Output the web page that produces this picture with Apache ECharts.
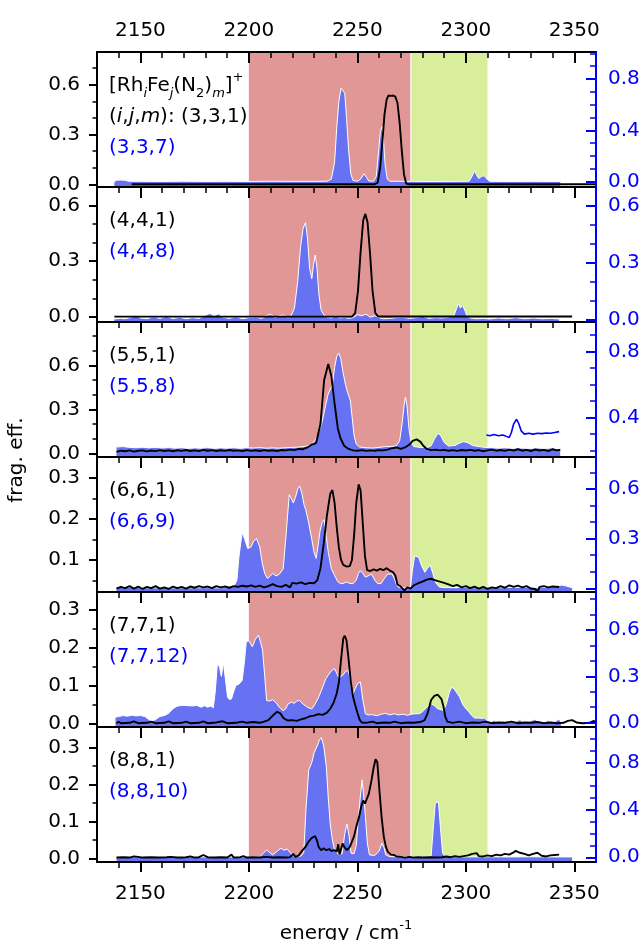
<!DOCTYPE html>
<html><head><meta charset="utf-8">
<script src="https://cdn.jsdelivr.net/npm/echarts@6/dist/echarts.min.js"></script>
<style>html,body{margin:0;padding:0;background:#fff}#c{width:644px;height:940px}</style>
</head><body><div id="c"></div>
<script>
// ---------------- data ----------------
const xMajor = [2150, 2200, 2250, 2300, 2350];
const xMinor = [2140, 2160, 2170, 2180, 2190, 2210, 2220, 2230, 2240, 2260, 2270, 2280, 2290, 2310, 2320, 2330, 2340];
const redBand = [2200, 2274.4];
const greenBand = [2274.9, 2310];

const labelsBlack = ['(3,3,1)', '(4,4,1)', '(5,5,1)', '(6,6,1)', '(7,7,1)', '(8,8,1)'];
const labelsBlue = ['(3,3,7)', '(4,4,8)', '(5,5,8)', '(6,6,9)', '(7,7,12)', '(8,8,10)'];

const leftMajor = [[0, 0.3, 0.6], [0, 0.3, 0.6], [0, 0.3, 0.6], [0.1, 0.2, 0.3], [0, 0.1, 0.2, 0.3], [0, 0.1, 0.2, 0.3]];
const leftMinor = [[0.1, 0.2, 0.4, 0.5, 0.7], [0.1, 0.2, 0.4, 0.5], [0.1, 0.2, 0.4, 0.5, 0.7, 0.8], [0.05, 0.15, 0.25], [0.05, 0.15, 0.25], [0.05, 0.15, 0.25]];
const rightMajor = [[0, 0.4, 0.8], [0, 0.3, 0.6], [0.4, 0.8], [0, 0.3, 0.6], [0, 0.3, 0.6], [0, 0.4, 0.8]];
const rightMinor = [[0.1, 0.2, 0.3, 0.5, 0.6, 0.7, 0.9, 1.0], [0.1, 0.2, 0.4, 0.5], [0.2, 0.3, 0.5, 0.6, 0.7, 0.9], [0.1, 0.2, 0.4, 0.5, 0.7], [0.1, 0.2, 0.4, 0.5, 0.7, 0.8], [0.1, 0.2, 0.3, 0.5, 0.6, 0.7, 0.9, 1.0]];
const leftExtent = [[-0.016, 0.797], [-0.028, 0.70], [-0.025, 0.896], [0.0216, 0.352], [-0.008, 0.347], [-0.01, 0.355]];
const rightExtent = [[-0.041, 1.011], [-0.013, 0.698], [0.162, 0.977], [-0.022, 0.793], [-0.028, 0.846], [-0.04, 1.10]];

// panel 1 (3,3,1) / (3,3,7)
const black1 = [[2146,0.001],[2258,0.001],[2259.4,0.01],[2260.5,0.1],[2261.5,0.25],[2262.5,0.42],[2263.5,0.51],[2264.3,0.535],[2265.5,0.533],[2266.5,0.535],[2267.5,0.528],[2268.5,0.49],[2269.5,0.37],[2270.5,0.2],[2271.5,0.06],[2272.5,0.005],[2273.5,0.001],[2360,0.001]];
const blue1 = [[2138,0.0],[2139,0.012],[2141,0.013],[2143,0.011],[2144.5,0.004],[2150,0.003],[2160,0.002],[2170,0.004],[2180,0.002],[2190,0.003],[2200,0.002],[2210,0.004],[2220,0.003],[2230,0.003],[2236,0.004],[2238,0.02],[2239.5,0.15],[2240.5,0.42],[2241.5,0.63],[2242.5,0.73],[2243.3,0.745],[2244.2,0.69],[2245,0.5],[2246,0.24],[2247,0.06],[2248,0.01],[2250,0.004],[2251.5,0.02],[2253,0.062],[2254.2,0.035],[2255.2,0.006],[2257.5,0.004],[2258.7,0.04],[2259.7,0.22],[2260.6,0.39],[2261.3,0.43],[2262,0.34],[2262.8,0.13],[2263.8,0.02],[2265,0.004],[2275,0.003],[2285,0.002],[2295,0.003],[2301.5,0.004],[2302.8,0.04],[2304,0.085],[2305.2,0.045],[2306,0.025],[2307.2,0.042],[2308.6,0.046],[2309.8,0.02],[2311,0.003],[2320,0.002],[2330,0.003],[2343.5,0.002]];

// panel 2 (4,4,1) / (4,4,8)
const black2 = [[2138,0.001],[2247.5,0.001],[2249,0.02],[2250.3,0.14],[2251.5,0.35],[2252.7,0.52],[2253.7,0.555],[2254.7,0.51],[2255.8,0.35],[2257,0.14],[2258.3,0.02],[2259.5,0.002],[2349,0.002]];
const blue2 = [[2138,0.003],[2141,0.006],[2143,0.004],[2146,0.012],[2148,0.022],[2150,0.008],[2153,0.004],[2156,0.014],[2159,0.006],[2162,0.016],[2165,0.005],[2168,0.012],[2171,0.004],[2174,0.01],[2177,0.006],[2180,0.022],[2182,0.032],[2184,0.02],[2186,0.03],[2188,0.012],[2191,0.006],[2194,0.014],[2197,0.004],[2200,0.01],[2203,0.012],[2206,0.006],[2208,0.02],[2210,0.028],[2212,0.01],[2214,0.02],[2216,0.024],[2218,0.012],[2219.5,0.02],[2221,0.06],[2222.5,0.2],[2223.8,0.38],[2225,0.48],[2226.1,0.51],[2227,0.43],[2228,0.27],[2229,0.215],[2229.8,0.29],[2230.6,0.34],[2231.4,0.27],[2232.3,0.13],[2233.3,0.05],[2234.5,0.025],[2236,0.012],[2238,0.008],[2240,0.018],[2242,0.008],[2244,0.012],[2246,0.006],[2248,0.01],[2250,0.025],[2252,0.02],[2254,0.028],[2256,0.012],[2258,0.02],[2260,0.01],[2262,0.004],[2265,0.006],[2268,0.01],[2271,0.012],[2274,0.006],[2277,0.01],[2280,0.016],[2283,0.006],[2286,0.01],[2289,0.008],[2292,0.012],[2294.5,0.02],[2295.8,0.06],[2296.6,0.085],[2297.5,0.06],[2298.5,0.075],[2299.5,0.05],[2300.5,0.02],[2302,0.008],[2305,0.004],[2308,0.006],[2311,0.003],[2315,0.008],[2319,0.004],[2323,0.01],[2327,0.004],[2331,0.008],[2335,0.004],[2339,0.006],[2343,0.003]];

// panel 3 (5,5,1) / (5,5,8)
const black3 = [[2139,0.01],[2141,0.018],[2143,0.014],[2145,0.02],[2147,0.012],[2149,0.018],[2151,0.02],[2153,0.013],[2155,0.019],[2157,0.015],[2159,0.022],[2161,0.016],[2163,0.02],[2165,0.014],[2167,0.021],[2169,0.017],[2171,0.023],[2173,0.016],[2175,0.02],[2177,0.015],[2179,0.024],[2181,0.018],[2183,0.022],[2185,0.016],[2187,0.021],[2189,0.017],[2191,0.023],[2193,0.018],[2195,0.02],[2197,0.016],[2199,0.022],[2201,0.017],[2203,0.021],[2205,0.016],[2207,0.022],[2209,0.018],[2211,0.02],[2213,0.016],[2215,0.023],[2217,0.02],[2219,0.025],[2221,0.022],[2223,0.03],[2225,0.028],[2227,0.04],[2229,0.06],[2231,0.07],[2233,0.2],[2234.7,0.5],[2236.6,0.61],[2238,0.53],[2239.5,0.34],[2241,0.17],[2242.3,0.1],[2244,0.05],[2246,0.03],[2248,0.02],[2250,0.018],[2252,0.022],[2254,0.017],[2256,0.02],[2258,0.018],[2260,0.022],[2262,0.02],[2264,0.025],[2266,0.035],[2268,0.04],[2270,0.03],[2272,0.04],[2274,0.06],[2275.5,0.085],[2277.3,0.095],[2279,0.08],[2280.5,0.05],[2282,0.03],[2284,0.022],[2286,0.025],[2288,0.02],[2290,0.024],[2292,0.018],[2294,0.022],[2296,0.017],[2298,0.023],[2300,0.019],[2302,0.024],[2304,0.018],[2306,0.022],[2308,0.014],[2310,0.02],[2312,0.025],[2314,0.018],[2316,0.023],[2318,0.017],[2320,0.025],[2322,0.019],[2324,0.028],[2326,0.018],[2328,0.024],[2330,0.016],[2332,0.026],[2334,0.019],[2336,0.024],[2338,0.015],[2340,0.028],[2342,0.02],[2343.5,0.024]];
const blue3 = [[2139,0.222],[2142,0.225],[2145,0.22],[2148,0.218],[2151,0.221],[2154,0.217],[2157,0.22],[2160,0.216],[2163,0.219],[2166,0.215],[2169,0.218],[2172,0.214],[2175,0.217],[2178,0.215],[2181,0.219],[2184,0.214],[2187,0.217],[2190,0.215],[2193,0.218],[2196,0.214],[2199,0.218],[2202,0.216],[2205,0.219],[2208,0.215],[2211,0.217],[2214,0.215],[2217,0.218],[2220,0.22],[2223,0.222],[2226,0.226],[2228.5,0.235],[2230.5,0.26],[2232,0.3],[2233.5,0.36],[2235,0.45],[2236.5,0.54],[2237.6,0.57],[2238.5,0.6],[2239.5,0.7],[2240.5,0.77],[2241.4,0.79],[2242.3,0.76],[2243.3,0.68],[2244.5,0.6],[2245.5,0.55],[2246.1,0.53],[2246.8,0.5],[2247.6,0.4],[2248.5,0.29],[2249.5,0.24],[2251,0.222],[2254,0.218],[2257,0.216],[2260,0.22],[2263,0.225],[2266,0.225],[2268,0.23],[2269.5,0.26],[2270.7,0.37],[2271.6,0.48],[2272.2,0.523],[2272.9,0.47],[2273.8,0.33],[2274.8,0.25],[2276,0.225],[2279,0.22],[2282,0.218],[2284,0.23],[2285.5,0.27],[2287.2,0.305],[2288.5,0.29],[2290,0.25],[2292,0.228],[2295,0.232],[2297,0.245],[2299,0.255],[2301,0.248],[2303,0.232],[2306,0.225],[2309,0.22],[2312,0.218],[2315,0.215],[2318,0.218],[2321,0.214],[2324,0.217],[2327,0.215],[2330,0.214],[2333,0.217],[2336,0.214],[2339,0.216],[2342,0.213],[2343.5,0.215]];
const blueLine3 = [[2309.5,0.295],[2311,0.29],[2313,0.298],[2315,0.29],[2317,0.295],[2319,0.285],[2320,0.28],[2321,0.31],[2322,0.36],[2323.4,0.39],[2324.5,0.36],[2325.5,0.32],[2327,0.3],[2329,0.305],[2331,0.3],[2333,0.305],[2335,0.303],[2337,0.307],[2339,0.305],[2341,0.31],[2343,0.315]];

// panel 4 (6,6,1) / (6,6,9)
const black4 = [[2139,0.03],[2141,0.034],[2143,0.031],[2145,0.036],[2147,0.03],[2149,0.035],[2151,0.029],[2153,0.034],[2155,0.031],[2157,0.036],[2159,0.03],[2161,0.033],[2163,0.029],[2165,0.035],[2167,0.031],[2169,0.034],[2171,0.03],[2173,0.035],[2175,0.032],[2177,0.036],[2179,0.033],[2181,0.035],[2183,0.031],[2185,0.036],[2187,0.033],[2189,0.035],[2191,0.032],[2193,0.036],[2195,0.034],[2197,0.037],[2199,0.035],[2201,0.038],[2203,0.034],[2205,0.037],[2207,0.033],[2209,0.036],[2211,0.041],[2213,0.036],[2215,0.034],[2217,0.039],[2219,0.033],[2220,0.044],[2222,0.042],[2224,0.045],[2226,0.041],[2228,0.044],[2230,0.043],[2231.5,0.05],[2233,0.08],[2234.5,0.14],[2236,0.21],[2237.5,0.262],[2238.5,0.271],[2239.5,0.24],[2240.5,0.18],[2241.5,0.13],[2242.5,0.1],[2243.5,0.088],[2245,0.084],[2246.5,0.085],[2247.5,0.1],[2248.5,0.16],[2249.5,0.24],[2250.6,0.285],[2251.5,0.27],[2252.5,0.19],[2253.5,0.11],[2254.5,0.075],[2256,0.073],[2257.5,0.077],[2259,0.074],[2260.5,0.078],[2262,0.075],[2263.5,0.08],[2265,0.074],[2266.5,0.07],[2267.5,0.062],[2268.5,0.04],[2270,0.035],[2271.7,0.025],[2273,0.033],[2274.5,0.03],[2276,0.038],[2278,0.043],[2280,0.047],[2282,0.052],[2284,0.054],[2286,0.05],[2288,0.047],[2290,0.044],[2292,0.04],[2294,0.036],[2296,0.039],[2298,0.033],[2300,0.036],[2302,0.031],[2304,0.035],[2306,0.03],[2308,0.034],[2310,0.029],[2312,0.033],[2314,0.031],[2316,0.036],[2318,0.032],[2320,0.038],[2322,0.034],[2324,0.037],[2326,0.033],[2328,0.036],[2330,0.03],[2332,0.029],[2333,0.022],[2334,0.034],[2336,0.036],[2338,0.033],[2340,0.035],[2343,0.034]];
const blue4 = [[2139,0.01],[2142,0.008],[2145,0.006],[2148,0.005],[2152,0.004],[2156,0.003],[2160,0.004],[2165,0.003],[2170,0.004],[2175,0.003],[2180,0.004],[2185,0.003],[2190,0.004],[2193,0.01],[2194.5,0.05],[2195.5,0.2],[2196.9,0.336],[2198,0.3],[2199.5,0.24],[2201,0.25],[2202,0.28],[2203.5,0.302],[2205,0.25],[2206.2,0.15],[2207.3,0.09],[2208.5,0.06],[2209.5,0.07],[2211,0.09],[2212.5,0.075],[2214,0.085],[2215.8,0.117],[2217,0.3],[2218.6,0.565],[2219.6,0.54],[2220.5,0.515],[2221.5,0.55],[2222.5,0.6],[2223.4,0.618],[2224.5,0.57],[2225.5,0.5],[2226.2,0.475],[2227.5,0.4],[2229,0.296],[2230,0.22],[2231,0.181],[2231.8,0.25],[2232.8,0.346],[2233.8,0.4],[2234.7,0.415],[2235.6,0.32],[2236.6,0.217],[2238,0.12],[2239.5,0.078],[2241,0.04],[2242.3,0.028],[2243.5,0.03],[2245,0.038],[2246.5,0.03],[2248,0.028],[2249.5,0.05],[2250.5,0.09],[2251.4,0.107],[2252.5,0.09],[2253.7,0.068],[2255,0.075],[2256.5,0.087],[2258,0.05],[2259.4,0.028],[2261,0.03],[2262.5,0.06],[2264,0.087],[2265,0.085],[2266,0.087],[2267,0.06],[2268,0.025],[2268.8,0.008],[2271,0.003],[2274.5,0.005],[2275.3,0.1],[2276.4,0.197],[2277.3,0.185],[2278.3,0.187],[2279.5,0.14],[2281.1,0.097],[2282.3,0.12],[2283.6,0.141],[2284.8,0.09],[2285.9,0.038],[2287.8,0.008],[2290,0.005],[2295,0.004],[2300,0.006],[2305,0.004],[2310,0.005],[2315,0.004],[2320,0.005],[2325,0.006],[2330,0.004],[2335,0.005],[2340,0.006],[2344,0.02],[2346,0.015],[2349,0.004]];

// panel 5 (7,7,1) / (7,7,12)
const black5 = [[2139,0.002],[2140,0.006],[2141,0.002],[2145,0.003],[2147,0.007],[2149,0.002],[2153,0.003],[2155,0.006],[2157,0.002],[2161,0.003],[2163,0.007],[2165,0.002],[2169,0.003],[2171,0.006],[2173,0.002],[2177,0.003],[2179,0.007],[2181,0.002],[2185,0.004],[2188,0.007],[2190,0.002],[2194,0.003],[2197,0.006],[2199,0.003],[2202,0.005],[2205,0.003],[2207,0.006],[2209,0.01],[2211,0.022],[2213,0.032],[2214.5,0.028],[2216,0.015],[2218,0.009],[2220,0.01],[2222,0.008],[2224,0.012],[2226,0.015],[2228,0.02],[2230,0.022],[2232,0.026],[2234,0.024],[2236,0.03],[2237.5,0.04],[2239,0.055],[2240.5,0.08],[2241.5,0.11],[2242.5,0.17],[2243.5,0.225],[2244.2,0.232],[2245,0.22],[2246,0.168],[2247,0.11],[2248,0.072],[2249,0.05],[2250,0.03],[2251,0.012],[2252,0.004],[2254,0.003],[2257,0.006],[2259,0.002],[2262,0.004],[2265,0.003],[2267,0.006],[2270,0.002],[2273,0.004],[2276,0.003],[2279,0.005],[2281,0.01],[2282.5,0.03],[2284,0.063],[2285.5,0.074],[2287,0.077],[2287.8,0.079],[2288.8,0.065],[2289.7,0.046],[2290.5,0.02],[2291.5,0.006],[2294,0.003],[2297,0.006],[2300,0.002],[2303,0.004],[2306,0.003],[2309,0.006],[2312,0.002],[2315,0.004],[2318,0.003],[2321,0.006],[2324,0.002],[2327,0.004],[2330,0.003],[2333,0.005],[2336,0.002],[2339,0.004],[2342,0.002],[2345,0.003],[2347,0.008],[2349,0.01],[2351,0.004],[2354,0.002],[2357,0.003],[2359,0.008],[2360,0.003]];
const blue5 = [[2138.5,0.035],[2140,0.04],[2142,0.046],[2144,0.042],[2146,0.048],[2148,0.044],[2150,0.046],[2152,0.04],[2153.5,0.025],[2155,0.009],[2157,0.02],[2159,0.04],[2161,0.046],[2163,0.06],[2165,0.09],[2166.6,0.104],[2168,0.11],[2170,0.112],[2172,0.11],[2174,0.108],[2176,0.112],[2178,0.1],[2179.5,0.11],[2181,0.1],[2182.5,0.108],[2183.6,0.096],[2184.5,0.2],[2185.5,0.383],[2186.5,0.36],[2187.3,0.3],[2188.3,0.387],[2189.2,0.28],[2190.2,0.165],[2191,0.15],[2192,0.154],[2193,0.2],[2194,0.241],[2195.5,0.25],[2196.9,0.274],[2198,0.4],[2198.8,0.524],[2200,0.53],[2201.6,0.491],[2203,0.54],[2204.4,0.567],[2205.4,0.52],[2206.3,0.47],[2207.3,0.3],[2208.2,0.143],[2209.5,0.14],[2211,0.148],[2212.5,0.13],[2214,0.1],[2215.8,0.078],[2217,0.09],[2218,0.12],[2219.6,0.133],[2221,0.125],[2222,0.14],[2223.4,0.143],[2225,0.12],[2227,0.1],[2229,0.089],[2230.5,0.12],[2232,0.16],[2232.8,0.187],[2234,0.23],[2235.5,0.285],[2236.6,0.307],[2238,0.335],[2239.5,0.35],[2240.5,0.32],[2241.5,0.29],[2242.3,0.285],[2243.5,0.31],[2244.5,0.33],[2245.7,0.339],[2246.5,0.3],[2247.3,0.22],[2248,0.187],[2249,0.22],[2250.2,0.255],[2251.4,0.263],[2252.5,0.15],[2253.7,0.057],[2255,0.05],[2257,0.052],[2259,0.045],[2261,0.055],[2263,0.06],[2265,0.05],[2267,0.058],[2269,0.05],[2271,0.055],[2273,0.048],[2275,0.055],[2277,0.058],[2278.3,0.057],[2280,0.07],[2282,0.1],[2284,0.122],[2285.5,0.11],[2287,0.09],[2288.5,0.085],[2289.7,0.078],[2291,0.12],[2292.3,0.19],[2293.4,0.23],[2294.5,0.22],[2296,0.19],[2297.2,0.165],[2298.5,0.12],[2300,0.09],[2301,0.078],[2302.5,0.05],[2304,0.03],[2304.8,0.024],[2306,0.03],[2307.5,0.028],[2308.6,0.03],[2310,0.012],[2312,0.006],[2313,0.018],[2314,0.006],[2317,0.005],[2319,0.012],[2320,0.004],[2323,0.006],[2325,0.02],[2326,0.005],[2329,0.006],[2332,0.022],[2333,0.005],[2336,0.004],[2338,0.014],[2339,0.005],[2341,0.006],[2343,0.024],[2343.8,0.004]];

// panel 6 (8,8,1) / (8,8,10)
const black6 = [[2139,0.002],[2142,0.003],[2145,0.002],[2147,0.005],[2149,0.004],[2151,0.002],[2155,0.003],[2158,0.002],[2162,0.003],[2164,0.004],[2167,0.002],[2170,0.002],[2173,0.005],[2175,0.002],[2177,0.003],[2179,0.009],[2181,0.003],[2184,0.002],[2187,0.003],[2190,0.002],[2192,0.01],[2193,0.002],[2196,0.003],[2197.5,0.006],[2199,0.002],[2202,0.003],[2205,0.002],[2208,0.004],[2211,0.002],[2214,0.003],[2217,0.002],[2219,0.003],[2220.5,0.012],[2221.5,0.004],[2223,0.008],[2224.5,0.02],[2226,0.03],[2227.5,0.045],[2229,0.055],[2230.5,0.06],[2231.3,0.05],[2232.2,0.03],[2233.3,0.022],[2234.5,0.027],[2235.7,0.022],[2237,0.025],[2238,0.02],[2239.5,0.022],[2240.5,0.018],[2241.2,0.038],[2241.8,0.01],[2242.5,0.012],[2243.2,0.04],[2244,0.03],[2245.2,0.022],[2246.5,0.03],[2247.5,0.045],[2248.5,0.06],[2249.5,0.085],[2250.8,0.112],[2251.8,0.14],[2252.7,0.156],[2253.5,0.148],[2254.2,0.147],[2255.3,0.175],[2256.5,0.21],[2257.5,0.245],[2258.4,0.268],[2259.2,0.26],[2260.3,0.174],[2261.2,0.11],[2262.2,0.058],[2263.2,0.03],[2264,0.018],[2265.5,0.01],[2267,0.009],[2268,0.005],[2270,0.004],[2272,0.002],[2274,0.004],[2276,0.002],[2278,0.003],[2280,0.002],[2283,0.003],[2286,0.002],[2289,0.003],[2291,0.005],[2293,0.003],[2295,0.006],[2297,0.004],[2299,0.006],[2301,0.008],[2303,0.012],[2305,0.014],[2306,0.006],[2308,0.005],[2310,0.008],[2312,0.006],[2314,0.01],[2316,0.008],[2318,0.012],[2320,0.01],[2322,0.016],[2323,0.02],[2325,0.015],[2327,0.012],[2329,0.008],[2331,0.012],[2333,0.015],[2335,0.007],[2337,0.005],[2339,0.008],[2341,0.009],[2343,0.01]];
const blue6 = [[2139,0.003],[2150,0.002],[2160,0.003],[2170,0.002],[2180,0.003],[2190,0.002],[2200,0.003],[2205,0.004],[2206.5,0.03],[2208.2,0.062],[2209.5,0.04],[2211,0.02],[2213,0.05],[2214.8,0.076],[2216,0.06],[2217.7,0.068],[2219,0.04],[2220.5,0.01],[2222,0.008],[2224,0.01],[2225.3,0.04],[2226.3,0.4],[2227.6,0.738],[2229,0.8],[2230,0.879],[2231.5,0.94],[2232.5,0.99],[2233.4,1.01],[2234.5,0.94],[2235.7,0.766],[2236.6,0.5],[2237.5,0.28],[2238.5,0.146],[2239.5,0.06],[2241.4,0.02],[2243,0.03],[2244.2,0.2],[2245.2,0.282],[2246.2,0.18],[2247.1,0.034],[2248.5,0.03],[2249.5,0.1],[2250.3,0.287],[2251.3,0.5],[2252.2,0.654],[2253,0.5],[2253.7,0.344],[2254.6,0.12],[2255.6,0.02],[2258,0.015],[2260,0.05],[2261.3,0.118],[2262.3,0.08],[2263.1,0.02],[2265,0.005],[2270,0.004],[2275,0.003],[2280,0.004],[2284,0.01],[2284.8,0.2],[2285.9,0.456],[2287.4,0.47],[2288.3,0.25],[2289.3,0.034],[2290.5,0.005],[2300,0.003],[2310,0.004],[2320,0.003],[2330,0.004],[2340,0.003],[2349,0.003]];

const blackSeries = [black1, black2, black3, black4, black5, black6];
const blueSeries = [blue1, blue2, blue3, blue4, blue5, blue6];

// ---------------- chart ----------------
const FONT = 'DejaVu Sans';
const FS = 20;
const BLUE = '#0000ff';
const FILL = '#6672f2';
const P_TOP = 52, P_H = 135, P_LEFT = 97, P_W = 499;

const grids = [], xAxes = [], yAxes = [], series = [], graphics = [];
const fmt = v => v.toFixed(1);
const fmtX = v => String(Math.round(v));

for (let i = 0; i < 6; i++) {
  grids.push({ left: P_LEFT, top: P_TOP + i * P_H, width: P_W, height: P_H });
  xAxes.push({
    type: 'value', gridIndex: i, position: 'top', min: 2130, max: 2360, z: 10,
    axisLine: { show: true, onZero: false, lineStyle: { color: '#000', width: 2 } },
    axisTick: { show: true, inside: true, length: 11, customValues: xMajor, lineStyle: { color: '#000', width: 2 } },
    axisLabel: { show: i === 0, customValues: xMajor, formatter: fmtX, margin: 11, fontFamily: FONT, fontSize: FS, color: '#000' },
    splitLine: { show: false }
  });
  xAxes.push({
    type: 'value', gridIndex: i, position: 'top', min: 2130, max: 2360, z: 10,
    axisLine: { show: false, onZero: false },
    axisTick: { show: true, inside: true, length: 6, customValues: xMinor, lineStyle: { color: '#000', width: 1.5 } },
    axisLabel: { show: false }, splitLine: { show: false }
  });
  const le = leftExtent[i], re = rightExtent[i];
  yAxes.push({
    type: 'value', gridIndex: i, position: 'left', min: le[0], max: le[1], z: 10,
    axisLine: { show: true, onZero: false, lineStyle: { color: '#000', width: 2 } },
    axisTick: { show: true, inside: false, length: 8, customValues: leftMajor[i], lineStyle: { color: '#000', width: 2 } },
    axisLabel: { customValues: leftMajor[i], formatter: fmt, margin: 17, fontFamily: FONT, fontSize: FS, color: '#000' },
    splitLine: { show: false }
  });
  yAxes.push({
    type: 'value', gridIndex: i, position: 'left', min: le[0], max: le[1], z: 10,
    axisLine: { show: false, onZero: false },
    axisTick: { show: true, inside: false, length: 4.5, customValues: leftMinor[i], lineStyle: { color: '#000', width: 1.5 } },
    axisLabel: { show: false }, splitLine: { show: false }
  });
  yAxes.push({
    type: 'value', gridIndex: i, position: 'right', min: re[0], max: re[1], z: 11,
    axisLine: { show: true, onZero: false, lineStyle: { color: BLUE, width: 2 } },
    axisTick: { show: true, inside: true, length: 10, customValues: rightMajor[i], lineStyle: { color: BLUE, width: 2 } },
    axisLabel: { customValues: rightMajor[i], formatter: fmt, margin: 12, fontFamily: FONT, fontSize: FS, color: BLUE },
    splitLine: { show: false }
  });
  yAxes.push({
    type: 'value', gridIndex: i, position: 'right', min: re[0], max: re[1], z: 11,
    axisLine: { show: false, onZero: false },
    axisTick: { show: true, inside: true, length: 6, customValues: rightMinor[i], lineStyle: { color: BLUE, width: 1.5 } },
    axisLabel: { show: false }, splitLine: { show: false }
  });

  const xi = 2 * i, yl = 4 * i, yr = 4 * i + 2;
  series.push({
    type: 'line', xAxisIndex: xi, yAxisIndex: yl, data: [], z: 1, silent: true,
    markArea: {
      silent: true,
      data: [
        [{ xAxis: redBand[0], itemStyle: { color: '#e29797' } }, { xAxis: redBand[1] }],
        [{ xAxis: greenBand[0], itemStyle: { color: '#d9ee9a' } }, { xAxis: greenBand[1] }]
      ]
    }
  });
  series.push({
    type: 'line', xAxisIndex: xi, yAxisIndex: yr, data: blueSeries[i], z: 3,
    symbol: 'none', lineStyle: { color: '#ffffff', width: 1 },
    areaStyle: { color: FILL, opacity: 1, origin: 'start' }
  });
  if (i === 2) {
    series.push({
      type: 'line', xAxisIndex: xi, yAxisIndex: yr, data: blueLine3, z: 4,
      symbol: 'none', lineStyle: { color: BLUE, width: 1.6 }
    });
  }
  series.push({
    type: 'line', xAxisIndex: xi, yAxisIndex: yl, data: blackSeries[i], z: 5,
    symbol: 'none', lineStyle: { color: '#000', width: 1.9 }
  });

  const top = P_TOP + i * P_H;
  if (i === 0) {
    graphics.push({
      type: 'text', left: 109, top: top + 19, z: 20,
      style: {
        text: '{n|[Rh}{si|i}{n|Fe}{si|j}{n|(N}{s|2}{n|)}{si|m}{n|]}{p|+}',
        rich: {
          n: { fontFamily: FONT, fontSize: FS, fill: '#000', lineHeight: 29 },
          si: { fontFamily: FONT, fontSize: 13, fontStyle: 'italic', fill: '#000', verticalAlign: 'bottom', lineHeight: 14 },
          s: { fontFamily: FONT, fontSize: 13, fill: '#000', verticalAlign: 'bottom', lineHeight: 14 },
          p: { fontFamily: FONT, fontSize: 13, fill: '#000', verticalAlign: 'top', lineHeight: 14 }
        }
      }
    });
    graphics.push({
      type: 'text', left: 109, top: top + 55, z: 20,
      style: {
        text: '{n|(}{i|i}{n|,}{i|j}{n|,}{i|m}{n|): ' + labelsBlack[0] + '}',
        rich: {
          n: { fontFamily: FONT, fontSize: FS, fill: '#000' },
          i: { fontFamily: FONT, fontSize: FS, fontStyle: 'italic', fill: '#000' }
        }
      }
    });
    graphics.push({
      type: 'text', left: 109, top: top + 86, z: 20,
      style: { text: labelsBlue[0], fontFamily: FONT, fontSize: FS, fill: BLUE }
    });
  } else {
    graphics.push({
      type: 'text', left: 109, top: top + 24, z: 20,
      style: { text: labelsBlack[i], fontFamily: FONT, fontSize: FS, fill: '#000' }
    });
    graphics.push({
      type: 'text', left: 109, top: top + 55, z: 20,
      style: { text: labelsBlue[i], fontFamily: FONT, fontSize: FS, fill: BLUE }
    });
  }
}

xAxes.push({
  type: 'value', gridIndex: 5, position: 'bottom', min: 2130, max: 2360, z: 10,
  axisLine: { show: true, onZero: false, lineStyle: { color: '#000', width: 2 } },
  axisTick: { show: true, inside: false, length: 10, customValues: xMajor, lineStyle: { color: '#000', width: 2 } },
  axisLabel: { customValues: xMajor, formatter: fmtX, margin: 22, fontFamily: FONT, fontSize: FS, color: '#000' },
  splitLine: { show: false }
});
xAxes.push({
  type: 'value', gridIndex: 5, position: 'bottom', min: 2130, max: 2360, z: 10,
  axisLine: { show: false, onZero: false },
  axisTick: { show: true, inside: false, length: 6, customValues: xMinor, lineStyle: { color: '#000', width: 1.5 } },
  axisLabel: { show: false }, splitLine: { show: false }
});

graphics.push({
  type: 'text', x: 17, y: 460, rotation: Math.PI / 2, z: 20,
  style: { text: 'frag. eff.', fontFamily: FONT, fontSize: FS, fill: '#000', align: 'center', verticalAlign: 'middle' }
});
graphics.push({
  type: 'text', x: 346, y: 934, z: 20,
  style: {
    text: '{n|energy / cm}{p|-1}', align: 'center', verticalAlign: 'middle',
    rich: {
      n: { fontFamily: FONT, fontSize: FS, fill: '#000', lineHeight: 29 },
      p: { fontFamily: FONT, fontSize: 13, fill: '#000', verticalAlign: 'top', lineHeight: 14 }
    }
  }
});

const chart = echarts.init(document.getElementById('c'), null, { renderer: 'canvas' });
chart.setOption({
  animation: false,
  backgroundColor: '#ffffff',
  grid: grids, xAxis: xAxes, yAxis: yAxes, series: series, graphic: { elements: graphics }
});
</script></body></html>
